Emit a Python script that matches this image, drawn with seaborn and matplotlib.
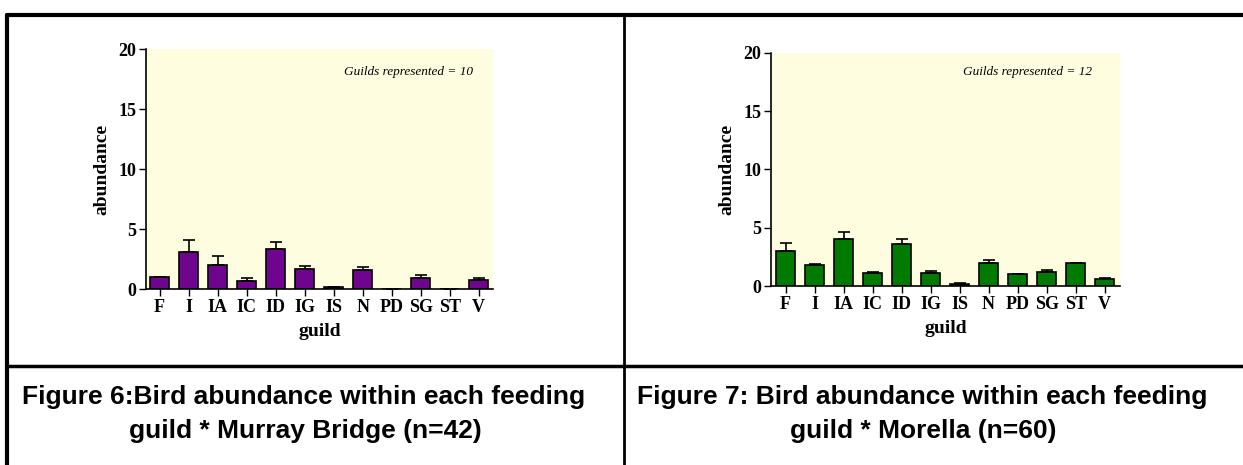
import seaborn as sns
import matplotlib.pyplot as plt
import pandas as pd
import numpy as np
from matplotlib.lines import Line2D

# guild codes (same order in both panels)
guilds = ["F", "I", "IA", "IC", "ID", "IG", "IS", "N", "PD", "SG", "ST", "V"]

# Murray Bridge (n=42)
mb_mean = [1.0, 3.1, 2.03, 0.69, 3.33, 1.64, 0.14, 1.58, 0.0, 0.89, 0.0, 0.72]
mb_err = [0.0, 0.97, 0.75, 0.2, 0.61, 0.28, 0.05, 0.25, 0.0, 0.3, 0.0, 0.17]

# Morella (n=60)
mo_mean = [3.0, 1.77, 4.0, 1.09, 3.63, 1.11, 0.14, 2.0, 1.0, 1.23, 2.0, 0.6]
mo_err = [0.71, 0.14, 0.66, 0.14, 0.4, 0.2, 0.09, 0.26, 0.0, 0.17, 0.0, 0.11]

sns.set_theme(style="white")
plt.rcParams['font.family'] = ['Liberation Serif', 'DejaVu Serif']
plt.rcParams.update({"text.color": "black", "axes.labelcolor": "black",
                     "xtick.color": "black", "ytick.color": "black"})

fig = plt.figure(figsize=(12.43, 4.65), dpi=100)

panels = [
    dict(mean=mb_mean, err=mb_err, color="#6f058f", n_guilds=10,
         rect=[146 / 1243, 1 - 289 / 465, 347 / 1243, 240 / 465],
         xlim=(-0.47, 11.49), note_xy=(0.942, 0.905)),
    dict(mean=mo_mean, err=mo_err, color="#007a00", n_guilds=12,
         rect=[771 / 1243, 1 - 286 / 465, 349 / 1243, 233 / 465],
         xlim=(-0.5, 11.53), note_xy=(0.92, 0.92)),
]

for p in panels:
    ax = fig.add_axes(p["rect"])
    df = pd.DataFrame({"guild": guilds, "abundance": p["mean"]})
    sns.barplot(data=df, x="guild", y="abundance", ax=ax, color=p["color"],
                saturation=1, width=0.66, edgecolor="black", linewidth=1.2,
                errorbar=None)
    x = np.arange(len(guilds))
    ax.errorbar(x, p["mean"], yerr=[np.zeros(len(guilds)), p["err"]],
                fmt="none", ecolor="black", elinewidth=1.2, capsize=4,
                capthick=1.2)
    ax.set_facecolor("#fffde0")
    ax.set_ylim(0, 20)
    ax.set_xlim(*p["xlim"])
    ax.set_yticks([0, 5, 10, 15, 20])
    for s in ["top", "right"]:
        ax.spines[s].set_visible(False)
    for s in ["left", "bottom"]:
        ax.spines[s].set_color("black")
        ax.spines[s].set_linewidth(1.2)
    ax.tick_params(axis="both", direction="out", length=5, width=1,
                   color="black", labelcolor="black", left=True, bottom=True,
                   pad=2)
    for lab in ax.get_xticklabels() + ax.get_yticklabels():
        lab.set_fontweight("bold")
        lab.set_fontsize(13)
    ax.set_xlabel("guild", fontsize=14, fontweight="bold", labelpad=5)
    ax.set_ylabel("abundance", fontsize=14, fontweight="bold", labelpad=6)
    ax.text(p["note_xy"][0], p["note_xy"][1],
            f"Guilds represented = {p['n_guilds']}", transform=ax.transAxes,
            ha="right", va="center", fontsize=9.5, style="italic")

# table borders
W, H = 1243, 465
lines = [
    ((7 / W, 1.0), (1 - 15 / H, 1 - 15 / H), 3),
    ((7 / W, 7 / W), (0, 1 - 15 / H), 3),
    ((624 / W, 624 / W), (0, 1 - 15 / H), 2),
    ((7 / W, 1.0), (1 - 366 / H, 1 - 366 / H), 2.5),
]
for xs, ys, lw in lines:
    fig.add_artist(Line2D(xs, ys, color="black", linewidth=lw,
                          transform=fig.transFigure))

cap_font = ['Liberation Sans', 'DejaVu Sans']
captions = [
    (304, 397, "Figure 6:Bird abundance within each feeding"),
    (305, 431, "guild * Murray Bridge (n=42)"),
    (922, 397, "Figure 7: Bird abundance within each feeding"),
    (923, 431, "guild * Morella (n=60)"),
]
for cx, cy, txt in captions:
    fig.text(cx / W, 1 - cy / H, txt, ha="center", va="center",
             fontsize=19, fontweight="bold", family=cap_font, color="black")

fig.savefig("out.png", dpi=100, facecolor="white")
